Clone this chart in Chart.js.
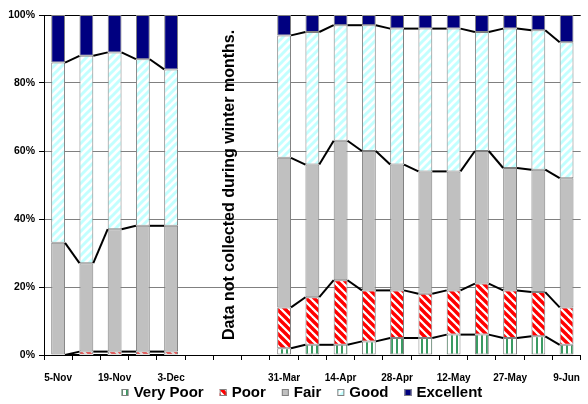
<!DOCTYPE html>
<html>
<head>
<meta charset="utf-8">
<script src="https://cdn.jsdelivr.net/npm/chart.js@4/dist/chart.umd.min.js"></script>
<style>
  html, body { margin: 0; padding: 0; background: #fff; overflow: hidden; }
  #wrap { width: 592px; height: 404px; }
</style>
</head>
<body>
<div id="wrap"><canvas id="c" width="592" height="404"></canvas></div>
<script>
// ---- data (percent of each survey in each rating class) ----
const categories = ['5-Nov','12-Nov','19-Nov','26-Nov','3-Dec','','','','31-Mar','7-Apr','14-Apr','21-Apr','28-Apr','5-May','12-May','19-May','27-May','2-Jun','9-Jun'];
const veryPoor  = [0, 0, 0, 0, 0, null, null, null, 2, 3, 3, 4, 5, 5, 6, 6, 5, 5.5, 3];
const poor      = [0, 1, 1, 1, 1, null, null, null, 12, 14, 19, 15, 14, 13, 13, 15, 14, 13, 11];
const fair      = [33, 26, 36, 37, 37, null, null, null, 44, 39, 41, 41, 37, 36, 35, 39, 36, 36, 38];
const good      = [53, 61, 52, 49, 46, null, null, null, 36, 39, 34, 37, 40, 42, 42, 35, 41, 41, 40];
const excellent = [14, 12, 11, 13, 16, null, null, null, 6, 5, 3, 3, 4, 4, 4, 5, 4, 4.5, 8];
const seriesNames = ['Very Poor', 'Poor', 'Fair', 'Good', 'Excellent'];
const yTicks = [0, 20, 40, 60, 80, 100];
const gapNote = 'Data not collected during winter months.';
const gapIndex = 6;

const FONT = "'Liberation Sans', Arial, sans-serif";

function makePattern(kind) {
  const s = kind === 'vp' ? 5 : 8;
  const c = document.createElement('canvas');
  c.width = s; c.height = s;
  const g = c.getContext('2d');
  g.fillStyle = '#ffffff';
  g.fillRect(0, 0, s, s);
  if (kind === 'vp') {
    g.fillStyle = '#3a9a62';
    g.fillRect(1, 0, 2, s);
  } else {
    g.strokeStyle = kind === 'poor' ? '#ff0000' : '#c2ffff';
    g.lineWidth = kind === 'poor' ? 3.4 : 3;
    for (let k = -1; k <= 1; k++) {
      g.beginPath();
      if (kind === 'poor') { g.moveTo(k * s - 2, -2); g.lineTo(k * s + s + 2, s + 2); }
      else { g.moveTo(k * s - 2, s + 2); g.lineTo(k * s + s + 2, -2); }
      g.stroke();
    }
  }
  return g.createPattern(c, 'repeat');
}

const fills = [makePattern('vp'), makePattern('poor'), '#c0c0c0', makePattern('good'), '#000080'];
const seriesData = [veryPoor, poor, fair, good, excellent];

const datasets = seriesData.map((d, i) => ({
  label: seriesNames[i],
  data: d,
  backgroundColor: fills[i],
  borderColor: '#808080',
  borderWidth: 1,
  borderSkipped: false,
  stack: 's'
}));

// Excel-style series lines connecting stack boundaries of neighbouring bars
const seriesLines = {
  id: 'seriesLines',
  afterDatasetsDraw(chart) {
    const ctx = chart.ctx;
    ctx.save();
    ctx.strokeStyle = '#000';
    ctx.lineWidth = 2;
    for (let d = 0; d < 4; d++) {
      const meta = chart.getDatasetMeta(d);
      const vals = chart.data.datasets[d].data;
      for (let i = 0; i < vals.length - 1; i++) {
        if (vals[i] == null || vals[i + 1] == null) continue;
        const a = meta.data[i], b = meta.data[i + 1];
        ctx.beginPath();
        ctx.moveTo(a.x + a.width / 2, a.y);
        ctx.lineTo(b.x - b.width / 2, b.y);
        ctx.stroke();
      }
    }
    ctx.restore();
  }
};

const gapText = {
  id: 'gapText',
  afterDraw(chart) {
    const ctx = chart.ctx;
    const x = chart.scales.x.getPixelForValue(gapIndex) + 2;
    const y = (chart.chartArea.top + chart.chartArea.bottom) / 2;
    ctx.save();
    ctx.translate(x, y);
    ctx.rotate(-Math.PI / 2);
    ctx.font = 'bold 16px ' + FONT;
    ctx.fillStyle = '#000';
    ctx.textAlign = 'center';
    ctx.textBaseline = 'middle';
    ctx.fillText(gapNote, 0, 0);
    ctx.restore();
  }
};

const legendPlugin = {
  id: 'bottomLegend',
  afterDraw(chart) {
    const ctx = chart.ctx;
    ctx.save();
    ctx.font = 'bold 15px ' + FONT;
    ctx.textBaseline = 'middle';
    ctx.textAlign = 'left';
    const box = 7, gap = 5, sep = 16, yc = 393;
    let total = 0;
    chart.data.datasets.forEach((ds, i) => {
      total += box + gap + ctx.measureText(ds.label).width + (i ? sep : 0);
    });
    let x = 302 - total / 2;
    chart.data.datasets.forEach((ds) => {
      ctx.fillStyle = ds.backgroundColor;
      ctx.fillRect(x, yc - 4, box, box);
      ctx.strokeStyle = '#808080';
      ctx.lineWidth = 1;
      ctx.strokeRect(x + 0.5, yc - 3.5, box - 1, box - 1);
      ctx.fillStyle = '#000';
      ctx.fillText(ds.label, x + box + gap, yc);
      x += box + gap + ctx.measureText(ds.label).width + sep;
    });
    ctx.restore();
  }
};

new Chart(document.getElementById('c'), {
  type: 'bar',
  data: { labels: categories, datasets },
  options: {
    responsive: false,
    animation: false,
    devicePixelRatio: 1,
    layout: { padding: { top: 15, right: 3, left: 0, bottom: 0 } },
    plugins: { legend: { display: false }, tooltip: { enabled: false } },
    datasets: { bar: { barPercentage: 0.49, categoryPercentage: 1.0 } },
    scales: {
      x: {
        stacked: true,
        offset: true,
        grid: { offset: true, drawOnChartArea: false, drawTicks: true, tickLength: 5, color: '#000', tickColor: '#000' },
        border: { display: true, color: '#000', width: 1 },
        ticks: {
          autoSkip: false, maxRotation: 0, minRotation: 0, padding: 12,
          color: '#000', font: { family: FONT, size: 10, weight: 'bold' },
          callback: (v, i) => (i % 2 === 0 ? categories[i] : '')
        },
        afterFit: (s) => { s.height = 49; }
      },
      y: {
        stacked: true,
        min: 0, max: 100,
        afterBuildTicks: (s) => { s.ticks = yTicks.map(v => ({ value: v })); },
        grid: {
          color: (c) => (c.tick && c.tick.value === 100 ? '#000' : '#808080'),
          tickColor: '#000', tickLength: 5, lineWidth: 1
        },
        border: { display: true, color: '#000', width: 1 },
        ticks: {
          padding: 4, color: '#000',
          font: { family: FONT, size: 10.5, weight: 'bold' },
          callback: (v) => v + '%'
        },
        afterFit: (s) => { s.width = 44; }
      }
    }
  },
  plugins: [seriesLines, gapText, legendPlugin]
});
</script>
</body>
</html>
